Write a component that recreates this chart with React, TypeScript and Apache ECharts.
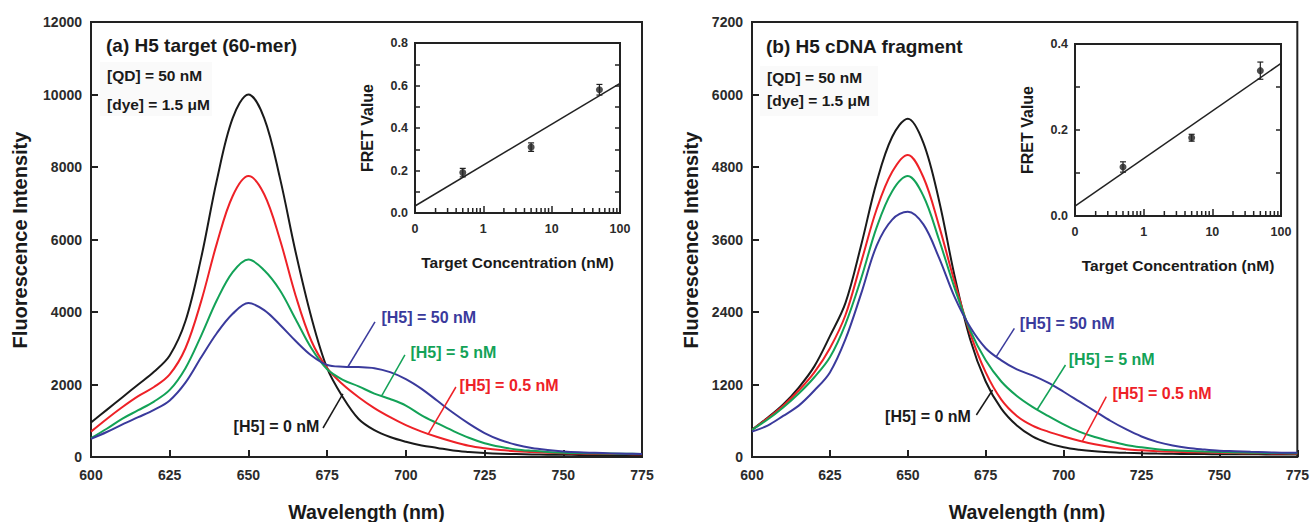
import React, { useEffect, useRef } from "react";
import * as echarts from "echarts";

// ---------- data ----------
const wavelengths = [600, 605, 610, 615, 620, 625, 630, 635, 640, 645, 650, 655, 660, 665, 670, 675, 680, 685, 690, 695, 700, 705, 710, 715, 720, 725, 730, 735, 740, 745, 750, 755, 760, 765, 770, 775];

// Panel (a): H5 target (60-mer)
const aH5_0 = [950, 1300, 1650, 2000, 2350, 2800, 3750, 5500, 7650, 9350, 10000, 9350, 7700, 5650, 3850, 2450, 1650, 1050, 740, 550, 420, 320, 250, 180, 140, 110, 90, 80, 70, 65, 60, 58, 55, 52, 50, 50];
const aH5_05 = [700, 1050, 1380, 1680, 1930, 2280, 3000, 4300, 5900, 7200, 7750, 7250, 6000, 4450, 3200, 2450, 2000, 1650, 1350, 1100, 880, 700, 550, 420, 310, 240, 190, 160, 140, 120, 105, 95, 90, 85, 80, 75];
const aH5_5 = [520, 780, 1060, 1290, 1530, 1850, 2450, 3350, 4330, 5100, 5450, 5150, 4600, 3800, 3000, 2420, 2130, 1950, 1750, 1600, 1420, 1150, 930, 720, 530, 380, 280, 210, 170, 140, 120, 110, 100, 95, 90, 85];
const aH5_50 = [500, 690, 900, 1100, 1300, 1560, 2050, 2750, 3420, 3950, 4250, 4050, 3650, 3200, 2800, 2540, 2490, 2480, 2450, 2340, 2150, 1880, 1550, 1220, 920, 660, 470, 340, 250, 195, 155, 130, 115, 100, 90, 85];

// Panel (b): H5 cDNA fragment
const bH5_0 = [450, 650, 870, 1150, 1500, 2000, 2550, 3500, 4550, 5300, 5600, 5200, 4250, 3000, 1950, 1250, 800, 520, 340, 230, 160, 120, 95, 80, 70, 62, 56, 52, 50, 48, 46, 45, 44, 43, 42, 42];
const bH5_05 = [450, 640, 850, 1100, 1400, 1800, 2350, 3220, 4100, 4720, 5000, 4630, 3830, 2900, 2050, 1400, 950, 680, 520, 420, 340, 270, 210, 165, 130, 110, 95, 85, 80, 75, 70, 65, 62, 60, 57, 55];
const bH5_5 = [450, 620, 820, 1050, 1320, 1650, 2200, 2950, 3800, 4400, 4650, 4320, 3600, 2800, 2100, 1600, 1250, 1010, 830, 680, 540, 420, 330, 260, 200, 160, 130, 110, 100, 90, 82, 76, 72, 68, 65, 62];
const bH5_50 = [420, 520, 680, 850, 1100, 1400, 1950, 2700, 3500, 3930, 4060, 3850, 3300, 2650, 2150, 1800, 1600, 1450, 1350, 1230, 1080, 920, 760, 600, 460, 340, 250, 190, 150, 125, 105, 95, 85, 78, 72, 70];

// Insets: FRET value vs target concentration
const insetConc = [0.5, 5, 50];
const insetA_fret = [0.19, 0.31, 0.58];
const insetA_err = [0.02, 0.02, 0.025];
const insetA_fitX = [0.1, 100];
const insetA_fitY = [0.033, 0.61];
const insetB_fret = [0.114, 0.182, 0.338];
const insetB_err = [0.012, 0.008, 0.02];
const insetB_fitX = [0.1, 100];
const insetB_fitY = [0.023, 0.355];
const logMinorTicks = [0.2, 0.3, 0.4, 0.5, 0.6, 0.7, 0.8, 0.9, 2, 3, 4, 5, 6, 7, 8, 9, 20, 30, 40, 50, 60, 70, 80, 90];

// ---------- styling ----------
const FONT = "Liberation Sans, Arial, Helvetica, sans-serif";
const INK = "#222";
const C_BLACK = "#1a1a1a";
const C_RED = "#ee2127";
const C_GREEN = "#13a257";
const C_BLUE = "#3a3a9c";

const pairs = (xs: number[], ys: number[]) => xs.map((x, i) => [x, ys[i]]);

function mainXAxis(gridIndex: number) {
  return {
    type: "value", gridIndex, min: 600, max: 775, interval: 25,
    axisLine: { show: false }, splitLine: { show: false },
    axisTick: { show: true, inside: true, length: 7, lineStyle: { color: INK, width: 2 } },
    axisLabel: { margin: 11, color: "#2b2b2b", fontSize: 14, fontWeight: "bold", fontFamily: FONT, formatter: (v: number) => String(v) },
  };
}
function mainYAxis(gridIndex: number, max: number, interval: number) {
  return {
    type: "value", gridIndex, min: 0, max, interval,
    axisLine: { show: false }, splitLine: { show: false },
    axisTick: { show: true, inside: true, length: 7, lineStyle: { color: INK, width: 2 } },
    axisLabel: { margin: 9, color: "#2b2b2b", fontSize: 14, fontWeight: "bold", fontFamily: FONT, formatter: (v: number) => String(v) },
  };
}
function insetXAxis(gridIndex: number) {
  return {
    type: "log", gridIndex, min: 0.1, max: 100, logBase: 10,
    axisLine: { show: false }, splitLine: { show: false },
    axisTick: { show: true, inside: true, length: 7, lineStyle: { color: INK, width: 1.5 } },
    axisLabel: {
      margin: 9, color: "#2b2b2b", fontSize: 12.5, fontWeight: "bold", fontFamily: FONT,
      formatter: (v: number) => (v < 0.5 ? "0" : String(Math.round(v))),
    },
  };
}
function insetYAxis(gridIndex: number, max: number, labels: boolean) {
  return {
    type: "value", gridIndex, min: 0, max, interval: 0.1,
    position: labels ? "left" : "right",
    axisLine: { show: false }, splitLine: { show: false },
    axisTick: { show: true, inside: true, length: 5, lineStyle: { color: INK, width: 1.5 } },
    axisLabel: {
      show: labels, margin: 7, color: "#2b2b2b", fontSize: 12.5, fontWeight: "bold", fontFamily: FONT,
      formatter: (v: number) => (Math.round(v * 10) % 2 === 0 ? v.toFixed(1) : ""),
    },
  };
}

function curve(name: string, xi: number, yi: number, ys: number[], color: string, ann: any) {
  return {
    name, type: "line", xAxisIndex: xi, yAxisIndex: yi,
    data: pairs(wavelengths, ys), smooth: 0.35, showSymbol: false, symbol: "none",
    lineStyle: { color, width: 2 }, itemStyle: { color }, z: 3,
    markLine: {
      silent: true, symbol: ["none", "none"], label: { show: false },
      lineStyle: { color, width: 1.5, type: "solid" },
      data: [[{ coord: ann.line[0] }, { coord: ann.line[1] }]],
    },
    markPoint: {
      silent: true, symbol: "circle", symbolSize: 1, itemStyle: { color: "transparent" },
      data: [{
        coord: ann.text,
        label: {
          show: true, formatter: name, position: ann.pos, distance: 0,
          color, fontSize: 16, fontWeight: "bold", fontFamily: FONT,
        },
      }],
    },
  };
}

function errorSeries(xi: number, yi: number, ys: number[], errs: number[]) {
  return {
    type: "custom", xAxisIndex: xi, yAxisIndex: yi, z: 5,
    data: insetConc.map((c, i) => [c, ys[i], errs[i]]),
    renderItem: (_p: any, api: any) => {
      const x = api.value(0), y = api.value(1), e = api.value(2);
      const t = api.coord([x, y + e]);
      const b = api.coord([x, y - e]);
      const s = { stroke: INK, lineWidth: 1.2 };
      return {
        type: "group",
        children: [
          { type: "line", shape: { x1: t[0], y1: t[1], x2: b[0], y2: b[1] }, style: s },
          { type: "line", shape: { x1: t[0] - 3, y1: t[1], x2: t[0] + 3, y2: t[1] }, style: s },
          { type: "line", shape: { x1: b[0] - 3, y1: b[1], x2: b[0] + 3, y2: b[1] }, style: s },
        ],
      };
    },
  };
}
function minorTickSeries(xi: number, yi: number) {
  return {
    type: "custom", xAxisIndex: xi, yAxisIndex: yi, z: 7, silent: true, clip: false,
    encode: { x: 0, y: 1 },
    data: logMinorTicks.map((v) => [v, 0.0]),
    renderItem: (_p: any, api: any) => {
      const p = api.coord([api.value(0), 0]);
      return {
        type: "group",
        children: [
          { type: "line", shape: { x1: p[0], y1: p[1], x2: p[0], y2: p[1] - 5 }, style: { stroke: INK, lineWidth: 1.5 } },
        ],
      };
    },
  };
}

function txt(text: string, x: number, y: number, size: number, opts: any = {}) {
  return {
    type: "text", x, y, rotation: opts.rotation || 0, z: 10,
    style: {
      text, fill: opts.fill || "#1a1a1a", fontSize: size, fontWeight: "bold", fontFamily: FONT,
      align: opts.align || "left", verticalAlign: "middle",
    },
  };
}

export default function App() {
  const ref = useRef<HTMLDivElement>(null);
  useEffect(() => {
    if (!ref.current) return;
    const chart = echarts.init(ref.current, undefined, { renderer: "svg" });
    const gridStyle = { show: true, borderColor: INK, borderWidth: 2, backgroundColor: "transparent" };
    const option: any = {
      animation: false,
      backgroundColor: "#fff",
      grid: [
        { ...gridStyle, left: 91, top: 22, width: 551, height: 435 },
        { ...gridStyle, left: 415, top: 43, width: 205, height: 170 },
        { ...gridStyle, left: 752, top: 22, width: 550, height: 435 },
        { ...gridStyle, left: 1075, top: 44, width: 206, height: 172 },
      ],
      xAxis: [mainXAxis(0), insetXAxis(1), mainXAxis(2), insetXAxis(3)],
      yAxis: [
        mainYAxis(0, 12000, 2000),
        insetYAxis(1, 0.8, true),
        insetYAxis(1, 0.8, false),
        mainYAxis(2, 7200, 1200),
        insetYAxis(3, 0.4, true),
        insetYAxis(3, 0.4, false),
      ],
      series: [
        curve("[H5] = 0 nM", 0, 0, aH5_0, C_BLACK, { line: [[673.7, 800], [680, 1740]], text: [672.7, 855], pos: "left" }),
        curve("[H5] = 0.5 nM", 0, 0, aH5_05, C_RED, { line: [[707, 620], [715.9, 1931]], text: [716.9, 1959], pos: "right" }),
        curve("[H5] = 5 nM", 0, 0, aH5_5, C_GREEN, { line: [[692.4, 1700], [699.7, 2814]], text: [701.3, 2869], pos: "right" }),
        curve("[H5] = 50 nM", 0, 0, aH5_50, C_BLUE, { line: [[681.6, 2490], [690.2, 3725]], text: [692.1, 3835], pos: "right" }),

        curve("[H5] = 0 nM", 2, 3, bH5_0, C_BLACK, { line: [[672, 695], [677.2, 1109]], text: [670.4, 667], pos: "left" }),
        curve("[H5] = 0.5 nM", 2, 3, bH5_05, C_RED, { line: [[706, 260], [713.7, 998]], text: [715.5, 1054], pos: "right" }),
        curve("[H5] = 5 nM", 2, 3, bH5_5, C_GREEN, { line: [[691.6, 790], [700.6, 1523]], text: [701.5, 1617], pos: "right" }),
        curve("[H5] = 50 nM", 2, 3, bH5_50, C_BLUE, { line: [[678.4, 1660], [684.2, 2130]], text: [685.8, 2213], pos: "right" }),

        {
          type: "line", xAxisIndex: 1, yAxisIndex: 1, data: pairs(insetA_fitX, insetA_fitY),
          showSymbol: false, symbol: "none", lineStyle: { color: INK, width: 1.5 }, z: 4,
        },
        errorSeries(1, 1, insetA_fret, insetA_err),
        {
          type: "scatter", xAxisIndex: 1, yAxisIndex: 1, data: pairs(insetConc, insetA_fret),
          symbol: "circle", symbolSize: 7, itemStyle: { color: INK }, z: 6,
        },
        minorTickSeries(1, 1),

        {
          type: "line", xAxisIndex: 3, yAxisIndex: 4, data: pairs(insetB_fitX, insetB_fitY),
          showSymbol: false, symbol: "none", lineStyle: { color: INK, width: 1.5 }, z: 4,
        },
        errorSeries(3, 4, insetB_fret, insetB_err),
        {
          type: "scatter", xAxisIndex: 3, yAxisIndex: 4, data: pairs(insetConc, insetB_fret),
          symbol: "circle", symbolSize: 7, itemStyle: { color: INK }, z: 6,
        },
        minorTickSeries(3, 4),
      ],
      graphic: [
        { type: "rect", z: 1, shape: { x: 100, y: 62, width: 112, height: 54 }, style: { fill: "#fafafa" } },
        { type: "rect", z: 1, shape: { x: 760, y: 66, width: 118, height: 50 }, style: { fill: "#fafafa" } },
        txt("(a) H5 target (60-mer)", 106, 45, 19),
        txt("[QD] = 50 nM", 107, 75, 15.5),
        txt("[dye] = 1.5 \u03bcM", 107, 104, 15.5),
        txt("(b) H5 cDNA fragment", 766, 46, 19),
        txt("[QD] = 50 nM", 767, 77, 15.5),
        txt("[dye] = 1.5 \u03bcM", 767, 100, 15.5),
        txt("Fluorescence Intensity", 20, 240, 20, { align: "center", rotation: Math.PI / 2 }),
        txt("Fluorescence Intensity", 691, 240, 20, { align: "center", rotation: Math.PI / 2 }),
        txt("Wavelength (nm)", 366.5, 512, 19.5, { align: "center" }),
        txt("Wavelength (nm)", 1027, 512, 19.5, { align: "center" }),
        txt("FRET Value", 367, 128, 16, { align: "center", rotation: Math.PI / 2 }),
        txt("FRET Value", 1027, 130, 16, { align: "center", rotation: Math.PI / 2 }),
        txt("Target Concentration (nM)", 517.5, 262, 15.5, { align: "center" }),
        txt("Target Concentration (nM)", 1178, 265, 15.5, { align: "center" }),
      ],
    };
    chart.setOption(option);
    return () => chart.dispose();
  }, []);
  return (
    <div
      ref={ref}
      style={{ position: "fixed", left: 0, top: 0, width: 1312, height: 522, background: "#fff" }}
    />
  );
}
